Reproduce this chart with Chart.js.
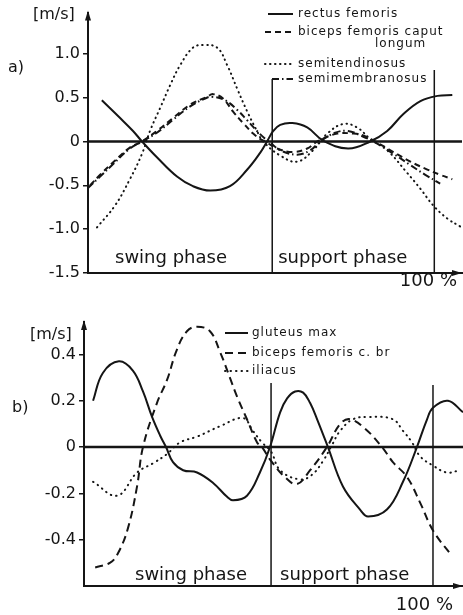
<!DOCTYPE html>
<html>
<head>
<meta charset="utf-8">
<script src="https://cdn.jsdelivr.net/npm/chart.js@4.4.0/dist/chart.umd.min.js"></script>
<style>
  html, body { margin: 0; padding: 0; background: #fff; }
  canvas { position: absolute; left: 0; }
  #chartA { top: 0; }
  #chartB { top: 300px; }
</style>
</head>
<body>
<canvas id="chartA" width="463" height="300"></canvas>
<canvas id="chartB" width="463" height="315"></canvas>
<script>
// Muscle lengthening velocity during the gait cycle, x = % of cycle

// ---- panel a) ----
const yTicksA = [-1.5, -1.0, -0.5, 0, 0.5, 1.0];
const yLabelsA = ['-1.5', '-1.0', '-0.5', '0', '0.5', '1.0'];
const phaseA = [53.2, 100];

const rectusX = [4.0, 9.2, 13.0, 15.6, 19.9, 25.7, 30.3, 35.3, 41.0, 46.0, 49.7, 51.7, 53.5, 55.5, 59.0, 63.3, 67.9, 75.1, 81.5, 86.4, 91.0, 96.0, 100.9, 105.2];
const rectusY = [0.47, 0.27, 0.12, 0, -0.18, -0.40, -0.51, -0.56, -0.51, -0.32, -0.13, 0, 0.12, 0.19, 0.21, 0.16, 0.01, -0.08, 0, 0.12, 0.31, 0.46, 0.52, 0.53];

const bicepsLongX = [0.6, 3.5, 7.2, 12.1, 15.6, 19.9, 24.6, 29.5, 34.4, 36.1, 39.0, 41.9, 44.8, 47.7, 49.7, 51.2, 54.6, 59.2, 63.3, 66.2, 72.0, 76.6, 79.5, 82.9, 88.2, 93.1, 98.0, 101.7, 105.2];
const bicepsLongY = [-0.5, -0.38, -0.24, -0.07, 0, 0.12, 0.27, 0.42, 0.51, 0.54, 0.49, 0.34, 0.21, 0.09, 0.03, 0, -0.08, -0.12, -0.08, 0, 0.09, 0.09, 0.07, 0, -0.12, -0.23, -0.32, -0.38, -0.43];

const semitendX = [2.6, 7.8, 12.1, 15.6, 17.9, 20.8, 23.7, 26.6, 30.3, 33.2, 37.3, 40.2, 43.1, 46.0, 48.8, 50.6, 55.5, 60.4, 65.0, 69.1, 73.7, 77.7, 81.5, 86.4, 92.2, 96.0, 99.7, 103.8, 107.5];
const semitendY = [-0.98, -0.73, -0.43, -0.14, 0.12, 0.38, 0.64, 0.87, 1.07, 1.1, 1.07, 0.87, 0.6, 0.34, 0.12, 0, -0.16, -0.23, -0.1, 0.09, 0.2, 0.16, 0.03, -0.1, -0.36, -0.54, -0.73, -0.88, -0.97];

const semimembX = [0, 3.5, 7.2, 12.1, 15.6, 19.9, 24.6, 29.5, 33.8, 35.8, 39.6, 43.1, 46.0, 48.8, 50.9, 52.3, 55.5, 60.4, 64.2, 67.1, 71.4, 75.1, 79.2, 82.4, 88.2, 93.1, 97.4, 101.7];
const semimembY = [-0.53, -0.4, -0.26, -0.08, 0, 0.1, 0.25, 0.4, 0.49, 0.51, 0.47, 0.36, 0.24, 0.12, 0.04, 0, -0.1, -0.15, -0.1, 0, 0.1, 0.12, 0.06, 0, -0.14, -0.27, -0.38, -0.48];

// ---- panel b) ----
const yTicksB = [-0.4, -0.2, 0, 0.2, 0.4];
const yLabelsB = ['-0.4', '-0.2', '0', '0.2', '0.4'];
const phaseB = [53.6, 100];

const gluteusX = [2.6, 5.4, 10.0, 14.0, 16.9, 19.5, 21.8, 23.5, 25.5, 28.4, 32.4, 37.0, 41.0, 42.7, 46.7, 50.4, 53.3, 56.2, 58.2, 60.5, 62.8, 64.8, 66.8, 69.9, 74.2, 79.1, 81.4, 86.8, 91.4, 95.4, 98.3, 100.0, 104.3, 108.6];
const gluteusY = [0.2, 0.32, 0.37, 0.33, 0.24, 0.13, 0.05, 0, -0.065, -0.1, -0.11, -0.155, -0.215, -0.23, -0.21, -0.11, 0, 0.15, 0.21, 0.24, 0.235, 0.19, 0.12, 0, -0.17, -0.27, -0.30, -0.27, -0.15, 0, 0.12, 0.17, 0.2, 0.15];

const bicepsBrX = [3.2, 7.4, 9.7, 12.6, 15.2, 16.9, 20.9, 23.8, 26.6, 29.5, 32.4, 36.1, 39.0, 41.8, 43.8, 46.7, 49.6, 51.0, 53.6, 57.6, 61.0, 64.8, 69.6, 73.4, 76.2, 80.5, 85.4, 88.5, 92.6, 96.3, 100.0, 105.4];
const bicepsBrY = [-0.52, -0.50, -0.46, -0.35, -0.17, 0, 0.19, 0.29, 0.42, 0.5, 0.52, 0.5, 0.41, 0.30, 0.22, 0.12, 0.02, 0, -0.06, -0.13, -0.16, -0.1, 0, 0.1, 0.12, 0.08, 0, -0.065, -0.13, -0.24, -0.36, -0.47];

const iliacusX = [2.6, 9.5, 15.2, 19.8, 23.8, 27.5, 32.4, 39.0, 45.6, 48.4, 51.0, 53.6, 56.2, 61.9, 65.3, 68.5, 71.1, 73.4, 77.1, 81.9, 88.5, 91.4, 94.0, 96.3, 100.0, 104.0, 107.7];
const iliacusY = [-0.15, -0.21, -0.11, -0.07, -0.03, 0.02, 0.045, 0.09, 0.125, 0.07, 0.02, -0.02, -0.1, -0.14, -0.12, -0.06, 0.01, 0.07, 0.12, 0.13, 0.12, 0.07, 0.02, -0.04, -0.08, -0.11, -0.1];

const phaseNames = ['swing phase', 'support phase'];

const INK = '#151515';
const FONT = '"DejaVu Sans", sans-serif';

const pts = (xs, ys) => xs.map((x, i) => ({ x: x, y: ys[i] }));

function line(label, xs, ys, dash, cap) {
  return {
    label: label,
    data: pts(xs, ys),
    borderColor: INK,
    borderWidth: 2,
    borderDash: dash,
    borderCapStyle: cap || 'butt',
    pointRadius: 0,
    fill: false,
    tension: 0.4
  };
}

// axis decorations, phase lines, texts and the hand-placed legend
const decor = {
  id: 'decor',
  beforeDatasetsDraw(chart, args, o) {
    const { ctx, chartArea: a, scales: { x, y } } = chart;
    ctx.save();
    ctx.strokeStyle = INK;
    ctx.lineWidth = 2.5;
    const y0 = y.getPixelForValue(0);
    ctx.beginPath(); ctx.moveTo(a.left, y0); ctx.lineTo(a.right, y0); ctx.stroke();
    ctx.lineWidth = 1.5;
    o.bounds.forEach((b, i) => {
      const px = x.getPixelForValue(b);
      ctx.beginPath();
      ctx.moveTo(px, a.bottom);
      ctx.lineTo(px, o.boundTops[i]);
      ctx.stroke();
    });
    ctx.restore();
  },
  afterDraw(chart, args, o) {
    const { ctx, chartArea: a, scales: { x } } = chart;
    ctx.save();
    ctx.fillStyle = INK;
    ctx.strokeStyle = INK;
    // arrow heads
    ctx.beginPath();
    ctx.moveTo(a.left, a.top - 2); ctx.lineTo(a.left - 3, a.top + 8); ctx.lineTo(a.left + 3, a.top + 8);
    ctx.fill();
    ctx.beginPath();
    ctx.moveTo(a.right, a.bottom); ctx.lineTo(a.right - 10, a.bottom - 3); ctx.lineTo(a.right - 10, a.bottom + 3);
    ctx.fill();

    ctx.textBaseline = 'middle';
    ctx.font = '16px ' + FONT;
    ctx.fillText('[m/s]', o.unit[0], o.unit[1]);
    ctx.fillText(o.tag, o.tagPos[0], o.tagPos[1]);

    ctx.font = '18px ' + FONT;
    phaseNames.forEach((t, i) => {
      const px = i === 0 ? a.left : x.getPixelForValue(o.bounds[0]);
      ctx.fillText(t, px + o.phaseDx[i], a.bottom - o.phaseDy);
    });
    ctx.textAlign = 'right';
    ctx.fillText('100 %', o.pct[0], o.pct[1]);
    ctx.textAlign = 'left';

    // legend
    const L = o.legend;
    ctx.font = L.size + 'px ' + FONT;
    ctx.letterSpacing = '1px';
    chart.data.datasets.forEach((ds, i) => {
      const ry = L.rows[i];
      ctx.save();
      ctx.lineWidth = ds.borderWidth;
      ctx.lineCap = ds.borderCapStyle;
      ctx.setLineDash(ds.borderDash);
      ctx.beginPath(); ctx.moveTo(L.starts[i], ry); ctx.lineTo(L.x1, ry); ctx.stroke();
      ctx.restore();
      const lines = [].concat(ds.label);
      ctx.fillText(lines[0], L.tx, ry);
      if (lines[1]) ctx.fillText(lines[1], L.subX, ry + L.subDy);
    });
    ctx.restore();
  }
};

function makeChart(id, datasets, yTicks, yLabels, yMin, yMax, xMax, axisW, axisH, padTop, padRight, deco) {
  return new Chart(document.getElementById(id), {
    type: 'line',
    data: { datasets: datasets },
    plugins: [decor],
    options: {
      responsive: false,
      animation: false,
      devicePixelRatio: 1,
      layout: { padding: { top: padTop, right: padRight, left: 0, bottom: 0 } },
      plugins: { legend: { display: false }, tooltip: { enabled: false }, decor: deco },
      scales: {
        x: {
          type: 'linear', min: 0, max: xMax,
          ticks: { display: false },
          grid: { display: false },
          border: { display: true, color: INK, width: 2 },
          afterFit: s => { s.height = axisH; }
        },
        y: {
          min: yMin, max: yMax,
          afterBuildTicks: s => { s.ticks = yTicks.map(v => ({ value: v })); },
          afterFit: s => { s.width = axisW; },
          ticks: {
            color: INK, padding: 3,
            font: { family: 'DejaVu Sans', size: 16 },
            callback: (v, i) => yLabels[i]
          },
          grid: { drawOnChartArea: false, drawTicks: true, tickLength: 5, color: INK, lineWidth: 1.5 },
          border: { display: true, color: INK, width: 2 }
        }
      }
    }
  });
}

makeChart('chartA', [
  line('rectus femoris', rectusX, rectusY, []),
  line(['biceps femoris caput', 'longum'], bicepsLongX, bicepsLongY, [6, 4]),
  line('semitendinosus', semitendX, semitendY, [0.5, 4.5], 'round'),
  line('semimembranosus', semimembX, semimembY, [7, 3, 1.5, 3])
], yTicksA, yLabelsA, -1.5, 1.47, 108, 88, 27, 10, 1, {
  bounds: phaseA, boundTops: [79, 70],
  unit: [33, 15], tag: 'a)', tagPos: [8, 68],
  phaseDx: [27, 6], phaseDy: 15, pct: [457, 281],
  legend: { size: 12, rows: [14, 32, 64, 79], starts: [268, 265, 265, 272], x1: 293, tx: 298, subX: 375, subDy: 12 }
});

makeChart('chartB', [
  line('gluteus max', gluteusX, gluteusY, []),
  line('biceps femoris c. br', bicepsBrX, bicepsBrY, [8, 5]),
  line('iliacus', iliacusX, iliacusY, [0.5, 5], 'round')
], yTicksB, yLabelsB, -0.6, 0.54, 108.6, 84, 29, 22, 0, {
  bounds: phaseB, boundTops: [83, 85],
  unit: [30, 35], tag: 'b)', tagPos: [12, 108],
  phaseDx: [51, 9], phaseDy: 11, pct: [453, 305],
  legend: { size: 12, rows: [33, 53, 71], starts: [225, 225, 225], x1: 248, tx: 252, subX: 0, subDy: 0 }
});
</script>
</body>
</html>
